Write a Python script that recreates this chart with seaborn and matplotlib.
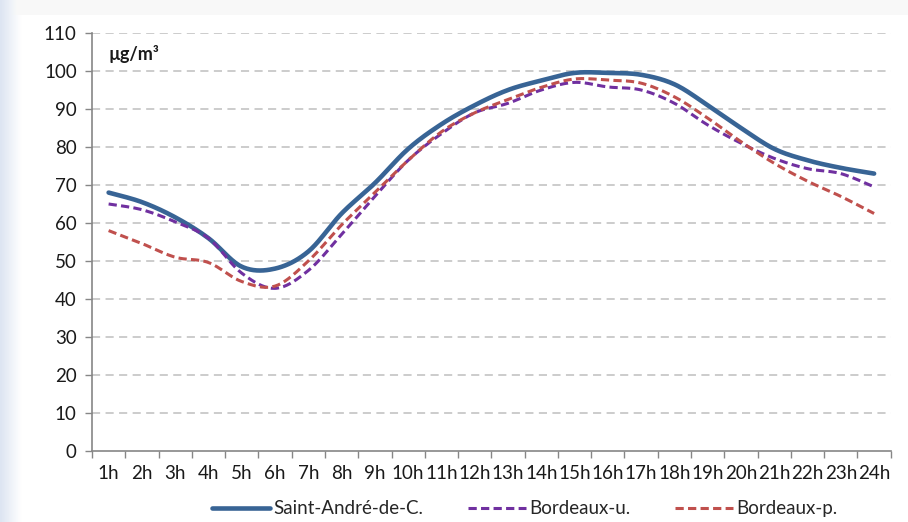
import numpy as np
import pandas as pd
import matplotlib
matplotlib.use("Agg")
import matplotlib.pyplot as plt
import seaborn as sns
from matplotlib.lines import Line2D

hours = [f"{h}h" for h in range(1, 25)]
saint_andre = [68, 65.5, 61.5, 56, 48.5, 48, 52.5, 62.5, 70.5, 79.5, 86, 91,
               95, 97.5, 99.5, 99.5, 99, 96.5, 91, 85, 79.5, 76.5, 74.5, 73]
bordeaux_u = [65, 63.5, 60.3, 56, 46.8, 42.8, 47.5, 57, 67, 76.5, 83.5, 89,
              91.5, 95, 97, 95.8, 95, 91.5, 85.8, 81, 77, 74.3, 73, 69.5]
bordeaux_p = [58, 54.6, 51, 49.6, 44.6, 43.4, 50, 59.5, 68, 76.5, 84, 89,
              92.5, 95.7, 97.9, 97.6, 96.8, 93.2, 87.6, 81.4, 75.7, 71, 67, 62.5]
series_names = ["Saint-André-de-C.", "Bordeaux-u.", "Bordeaux-p."]
y_ticks = list(range(0, 111, 10))


def smooth(values, steps=20):
    # Excel style smoothed line: cubic bezier, control points from neighbours
    p = np.asarray(values, dtype=float)
    x = np.arange(len(p), dtype=float)
    pts = np.column_stack([x, p])
    ext = np.vstack([pts[0], pts, pts[-1]])
    xs, ys = [], []
    t = np.linspace(0, 1, steps, endpoint=False)
    for i in range(len(pts) - 1):
        p0, p1, p2, p3 = ext[i], ext[i + 1], ext[i + 2], ext[i + 3]
        b1 = p1 + (p2 - p0) / 6
        b2 = p2 - (p3 - p1) / 6
        seg = ((1 - t) ** 3)[:, None] * p1 + (3 * (1 - t) ** 2 * t)[:, None] * b1 \
            + (3 * (1 - t) * t ** 2)[:, None] * b2 + (t ** 3)[:, None] * p2
        xs.append(seg[:, 0])
        ys.append(seg[:, 1])
    xs.append([pts[-1, 0]])
    ys.append([pts[-1, 1]])
    return np.concatenate(xs), np.concatenate(ys)


sns.set_theme(style="white")
plt.rcParams['font.family'] = ['Lato', 'DejaVu Sans']

fig = plt.figure(figsize=(9.08, 5.22), dpi=100)
fig.patch.set_facecolor("white")

# faint slide background on the left and top edges
bg = fig.add_axes([0, 0, 1, 1], zorder=-5)
grad = np.ones((522, 400, 3))
fade = np.clip(np.linspace(0, 1, 400) / 0.022, 0, 1)
base = np.array([0.87, 0.90, 0.95])
for c in range(3):
    grad[:, :, c] = base[c] + (1 - base[c]) * fade
grad[:15, :, :] = np.minimum(grad[:15, :, :], 0.975)
bg.imshow(grad, aspect="auto", extent=[0, 1, 0, 1])
bg.axis("off")

ax = fig.add_axes([0.1013, 0.136, 0.8797, 0.8008])
ax.set_facecolor("white")

colors = ["#386495", "#7030A0", "#C0504D"]
styles = [dict(lw=3.3, dashes=None), dict(lw=2.2, dashes=(2.7, 1.4)), dict(lw=2.2, dashes=(2.7, 1.4))]
for name, vals, col, st in zip(series_names, [saint_andre, bordeaux_u, bordeaux_p], colors, styles):
    sx, sy = smooth(vals)
    df = pd.DataFrame({"x": sx, "y": sy})
    kw = {}
    if st["dashes"] is not None:
        kw["dashes"] = st["dashes"]
    sns.lineplot(data=df, x="x", y="y", ax=ax, color=col, linewidth=st["lw"],
                 sort=False, estimator=None, solid_capstyle="round",
                 dash_capstyle="butt", **kw)

ax.set_xlim(-0.5, len(hours) - 0.5)
ax.set_ylim(0, 110)
ax.set_yticks(y_ticks)
ax.set_yticklabels([str(v) for v in y_ticks], fontsize=13.5, color="#1a1a1a")
ax.set_xticks(range(len(hours)))
ax.set_xticklabels(hours, fontsize=13.5, color="#1a1a1a")
ax.set_xticks(np.arange(-0.5, len(hours), 1), minor=True)
ax.tick_params(axis="x", which="major", length=0, pad=10)
ax.tick_params(axis="x", which="minor", length=5, width=1, color="#868686", bottom=True)
ax.tick_params(axis="y", length=5, width=1, color="#868686", left=True, pad=6)
ax.set_xlabel("")
ax.set_ylabel("")

for v in y_ticks[1:]:
    ax.axhline(v, color="#c8c8c8", lw=1.3, ls=(0, (4.5, 3)), zorder=0)

for s in ["top", "right"]:
    ax.spines[s].set_visible(False)
for s in ["left", "bottom"]:
    ax.spines[s].set_color("#868686")
    ax.spines[s].set_linewidth(1.2)

ax.text(0.0, 104.5, "µg/m³", fontsize=13, fontweight="bold", ha="left", va="center",
        color="#1a1a1a")

handles = [Line2D([], [], color=colors[0], lw=3.3, solid_capstyle="round"),
           Line2D([], [], color=colors[1], lw=2.2, dashes=(2.7, 1.4)),
           Line2D([], [], color=colors[2], lw=2.2, dashes=(2.7, 1.4))]
fig.legend(handles, series_names, loc="center", bbox_to_anchor=(0.578, 0.025), ncol=3,
           frameon=False, fontsize=13.5, handlelength=3.1, handletextpad=0.15,
           columnspacing=2.4)

fig.savefig("out.png", dpi=100)
